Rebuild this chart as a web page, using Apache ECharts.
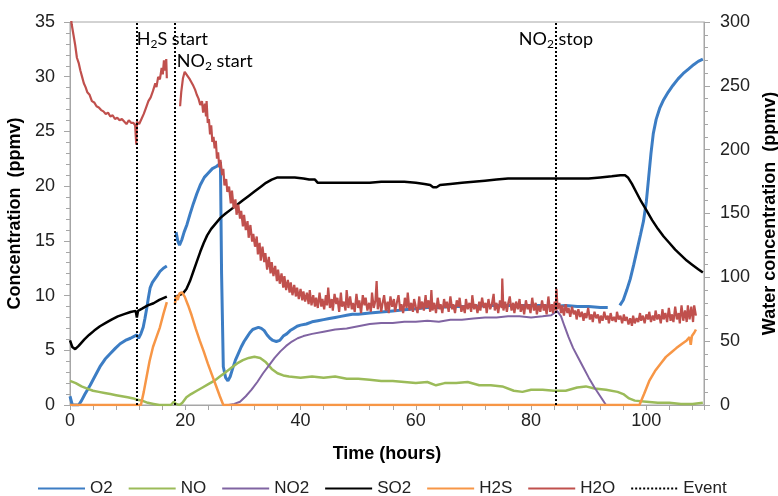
<!DOCTYPE html>
<html>
<head>
<meta charset="utf-8">
<script src="https://cdn.jsdelivr.net/npm/echarts@6/dist/echarts.min.js"></script>
<style>
  html, body { margin: 0; padding: 0; background: #fff; }
  #chart { width: 778px; height: 496px; }
</style>
</head>
<body>
<div id="chart"></div>
<script>
// series names (legend order)
var seriesNames = ['O2', 'NO', 'NO2', 'SO2', 'H2S', 'H2O', 'Event'];

// O2 (ppmv) - [hours, value]
var o2Data = [
  [0,0.8],[0.4,0],[1.5,0],[2.0,0.4],[2.6,1.0],[3.5,1.8],[4.3,2.6],[5.2,3.5],[6.1,4.2],[7.0,4.7],
  [7.9,5.2],[8.7,5.6],[9.6,5.9],[10.5,6.1],[11.2,6.3],[11.6,6.4],[11.9,6.1],[12.3,6.5],[12.7,7.1],
  [13.0,7.9],[13.3,8.8],[13.6,9.8],[13.9,10.7],[14.3,11.2],[14.7,11.5],[15.1,11.8],[15.6,12.2],
  [16.2,12.5],[16.8,12.7],[17.5,'-'],
  [18.4,15.8],[18.7,15.0],[19.0,14.6],[19.4,15.1],[19.8,15.8],[20.3,16.5],[20.8,17.4],[21.4,18.4],
  [22.0,19.3],[22.6,20.1],[23.3,20.8],[24.0,21.2],[24.7,21.6],[25.4,21.8],[25.9,22.0],[26.1,22.2],
  [26.3,12],[26.6,3.5],[27.0,2.5],[27.4,2.2],[27.8,2.6],[28.2,3.3],[28.7,4.1],[29.2,4.7],[29.7,5.3],
  [30.2,5.8],[30.7,6.2],[31.2,6.6],[31.7,6.9],[32.2,7.0],[32.7,7.1],[33.2,7.0],[33.7,6.8],[34.2,6.4],
  [34.7,6.1],[35.2,5.9],[35.8,5.8],[36.4,5.9],[37.0,6.3],[37.6,6.5],[38.2,6.8],[38.8,7.0],[39.4,7.2],
  [40.0,7.3],[41.0,7.4],[42.0,7.6],[43.0,7.7],[44.0,7.8],[45.0,7.9],[46.0,8.0],[47.0,8.1],[48.0,8.2],
  [49.0,8.3],[50.0,8.3],[52.0,8.4],[54.0,8.5],[56.0,8.6],[58.0,8.7],[60.0,8.8],[62.0,8.9],[64.0,8.9],
  [66.0,9.0],[68.0,9.0],[70.0,9.0],[72.0,9.1],[74.0,9.1],[76.0,9.1],[78.0,9.1],[80.0,9.1],[82.0,9.1],
  [84.0,9.0],[86.0,9.1],[88.0,9.0],[90.0,9.0],[92.0,8.9],[93.3,8.9],[94.3,'-'],
  [95.4,9.1],[96.0,9.6],[96.6,10.5],[97.2,11.5],[97.8,12.8],[98.4,14.2],[99.0,15.6],[99.5,16.8],
  [100.0,18.6],[100.4,20.8],[100.8,23.0],[101.2,24.8],[101.7,26.1],[102.3,27.1],[103.0,27.9],
  [103.8,28.6],[104.6,29.2],[105.5,29.8],[106.4,30.3],[107.3,30.7],[108.2,31.1],[109.0,31.4],[109.8,31.6]
];

// NO (ppmv)
var noData = [
  [0,2.2],[1,2.0],[2,1.7],[3,1.5],[4,1.3],[5,1.2],[6,1.1],[7,1.0],[8,0.9],[9,0.8],[10,0.7],[11,0.6],
  [11.5,0.5],[12.5,0.4],[13.5,0.2],[14.5,0.1],[15.5,0],[17.5,0],[18.0,0.3],[18.4,0.1],[19.0,0],
  [19.5,0.2],[20.2,0.7],[21.0,1.0],[22.0,1.3],[23.0,1.6],[24.0,1.9],[25.0,2.2],[26.0,2.6],[27.0,3.0],
  [28.0,3.4],[29.0,3.8],[30.0,4.1],[31.0,4.3],[32.0,4.4],[33.0,4.3],[34.0,3.9],[35.0,3.3],[36.0,2.9],
  [37.0,2.7],[38.0,2.6],[40.0,2.5],[42.0,2.6],[44.0,2.5],[46.0,2.6],[48.0,2.4],[50.0,2.4],[52.0,2.3],
  [54.0,2.2],[56.0,2.2],[58.0,2.1],[60.0,2.0],[62.0,2.1],[63.5,1.8],[65.0,2.0],[67.0,2.0],[69.0,2.1],
  [71.0,1.8],[73.0,1.8],[75.0,1.7],[77.0,1.3],[78.5,1.2],[80.0,1.4],[82.0,1.4],[84.0,1.3],[86.0,1.3],
  [88.0,1.6],[89.5,1.7],[91.0,1.5],[93.0,1.4],[95.0,1.2],[96.0,1.0],[97.0,0.6],[98.0,0.4],[100.0,0.3],
  [102.0,0.2],[104.0,0.2],[106.0,0.1],[108.0,0.1],[109.8,0.2]
];

// NO2 (ppmv)
var no2Data = [
  [27.5,0],[28.5,0.1],[29.5,0.3],[30.5,0.8],[31.5,1.4],[32.5,2.1],[33.5,2.9],[34.5,3.6],[35.5,4.3],
  [36.5,4.9],[37.5,5.4],[38.5,5.8],[39.5,6.1],[40.5,6.3],[42,6.5],[44,6.7],[46,6.9],[48,7.0],[50,7.2],
  [52,7.4],[54,7.5],[56,7.5],[58,7.6],[60,7.6],[62,7.7],[64,7.6],[66,7.8],[68,7.8],[70,7.9],[72,8.0],
  [74,8.0],[76,8.1],[78,8.1],[80,8.0],[82,8.1],[83.5,8.2],[84.5,8.6],[85.2,8.1],[85.8,7.2],[86.5,6.2],
  [87.3,5.2],[88.2,4.3],[89.0,3.5],[90.0,2.5],[91.0,1.6],[92.0,0.8],[93.0,0]
];

// SO2 (ppmv)
var so2Data = [
  [0,5.9],[0.4,5.3],[0.9,5.1],[1.5,5.4],[2.5,6.0],[3.3,6.4],[4.2,6.8],[5.2,7.2],[6.2,7.5],[7.2,7.8],
  [8.3,8.1],[9.4,8.3],[10.5,8.5],[11.4,8.6],[11.6,8.0],[11.8,8.6],[12.5,8.8],[13.5,9.1],[14.5,9.3],
  [15.5,9.6],[16.8,9.9],[17.5,'-'],
  [18.2,9.9],[18.8,10.0],[19.6,10.2],[20.2,10.6],[20.8,11.3],[21.4,12.2],[22.0,13.1],[22.6,14.0],
  [23.2,14.8],[23.8,15.5],[24.5,16.1],[25.3,16.6],[26.1,17.1],[27.0,17.5],[28.0,17.9],[29.0,18.3],
  [30.0,18.7],[31.0,19.1],[32.0,19.5],[33.0,19.9],[34.0,20.3],[35.0,20.6],[36.0,20.8],[37.5,20.8],
  [39.0,20.8],[40.5,20.7],[41.5,20.6],[42.5,20.6],[43.0,20.3],[44.0,20.3],[46.0,20.3],[48.0,20.3],
  [50.0,20.3],[52.0,20.3],[54.0,20.4],[56.0,20.4],[58.0,20.4],[60.0,20.3],[61.5,20.2],[62.5,20.1],
  [63.0,19.9],[63.6,19.9],[64.2,20.1],[66.0,20.2],[68.0,20.3],[70.0,20.4],[72.0,20.5],[74.0,20.6],
  [76.0,20.7],[78.0,20.7],[80.0,20.7],[82.0,20.7],[84.0,20.7],[86.0,20.7],[88.0,20.7],[90.0,20.7],
  [92.0,20.8],[94.0,20.9],[95.5,21.0],[96.3,21.0],[96.8,20.8],[97.5,20.2],[98.3,19.4],[99.1,18.6],
  [100.0,17.8],[101.0,16.9],[102.0,16.1],[103.0,15.4],[104.0,14.8],[105.0,14.2],[106.0,13.7],
  [107.0,13.2],[108.0,12.8],[109.0,12.4],[109.8,12.1]
];

// H2S (ppmv)
var h2sData = [
  [0,0],[12.3,0],[12.8,1.2],[13.3,2.6],[13.8,4.0],[14.4,5.3],[15.0,6.2],[15.6,7.1],[16.2,8.3],
  [16.8,9.4],[17.5,'-'],
  [18.2,9.2],[18.4,10.0],[18.7,9.6],[19.0,10.2],[19.4,10.3],[19.9,9.9],[20.5,9.1],[21.1,8.2],
  [21.8,7.0],[22.5,5.9],[23.2,4.9],[23.9,3.8],[24.6,2.8],[25.3,1.8],[26.0,0.8],[26.6,0],[98.8,0],
  [99.6,1.0],[100.5,2.2],[101.5,3.1],[102.5,3.8],[103.4,4.4],[104.3,4.8],[105.2,5.2],[106.2,5.6],
  [107.0,5.9],[107.5,6.2],[107.7,5.5],[107.9,6.3],[108.3,6.6],[108.6,6.9]
];

// H2O (ppmv, right axis)
var h2oData = [
  [0,310],[0.3,298],[0.6,290],[0.9,282],[1.2,272],[1.5,268],[1.8,262],[2.1,257],[2.4,252],[2.7,249],
  [3.0,245],[3.4,243],[3.8,238],[4.2,237],[4.6,234],[5.0,233],[5.4,231],[5.8,230],[6.2,228],[6.6,229],
  [7.0,226],[7.4,227],[7.8,224],[8.2,225],[8.6,223],[9.0,224],[9.4,222],[9.8,220],[10.2,223],
  [10.6,221],[11.0,221],[11.3,219],[11.5,204],[11.6,222],[12.0,220],[12.4,224],[12.8,228],[13.2,233],
  [13.6,238],[14.0,241],[14.4,246],[14.8,252],[15.0,249],[15.3,257],[15.6,255],[15.9,264],[16.1,259],
  [16.3,270],[16.5,262],[16.7,271],[16.8,256],[17.8,'-'],
  [19.1,234],[19.3,245],[19.6,256],[19.9,261],[20.2,259],[20.5,260],[20.8,255],[21.1,256],[21.4,250],
  [21.7,247],[22.0,243],[22.3,240],[22.6,235],[22.9,238],
  [23.1,229],[23.4,236],[23.6,226],[23.7,238],[23.9,221],[24.1,224],[24.3,212],[24.5,219],[24.7,206],
  [24.9,210],[25.1,201],[25.3,207],[25.5,193],[25.7,198],[25.9,186],[26.1,192],[26.4,180],[26.6,185],
  [26.8,172],[27.1,177],[27.3,167],[27.6,171],[27.9,158],[28.1,168],[28.4,154],[28.7,161],[28.9,149],
  [29.2,157],[29.5,146],[29.7,152],[30.0,140],[30.2,149],[30.5,137],[30.8,144],[31.0,131],[31.3,141],
  [31.6,128],[31.8,134],[32.1,124],[32.4,132],[32.6,118],[32.9,127],[33.1,113],[33.4,124],[33.7,112],
  [33.9,119],[34.2,106],[34.5,116],[34.8,103],[35.0,112],[35.3,101],[35.6,109],[35.9,97],[36.1,106],
  [36.4,95],[36.7,103],[37.0,92],[37.2,101],[37.5,90],[37.8,98],[38.1,88],[38.3,96],[38.6,86],
  [38.9,94],[39.2,85],[39.4,92],[39.7,83],[40.0,91],[40.3,82],[40.5,89],[40.8,81],[41.1,88],[41.4,79],
  [41.6,90],[41.9,78],[42.2,86],[42.5,77],[42.7,84],[43.0,76],[43.3,88],[43.6,77],[43.8,83],
  [44.1,75],[44.4,86],[44.6,78],[44.8,92],[45.1,76],[45.4,83],[45.6,74],[45.9,87],[46.2,79],[46.4,84],
  [46.7,73],[47.0,88],[47.2,77],[47.5,81],[47.8,74],[48.0,90],[48.3,76],[48.6,85],[48.9,75],[49.1,80],
  [49.4,73],[49.7,87],[50.0,76],[50.2,82],[50.5,72],[50.8,86],[51.1,78],[51.3,84],[51.6,74],[51.9,80],
  [52.2,73],[52.4,88],[52.7,76],[53.0,82],[53.2,97],[53.4,75],[53.7,84],[54.0,73],[54.2,79],[54.5,86],
  [54.8,74],[55.1,81],[55.3,72],[55.6,85],[55.9,77],[56.2,83],[56.4,73],[56.7,80],[57.0,86],[57.3,74],
  [57.5,79],[57.8,72],[58.1,84],[58.4,76],[58.6,88],[58.9,74],[59.2,80],[59.5,73],[59.7,83],[60.0,77],
  [60.3,72],[60.6,85],[60.8,75],[61.1,81],[61.4,74],[61.7,86],[61.9,76],[62.2,82],[62.5,73],[62.7,90],
  [62.9,74],[63.2,80],[63.5,72],[63.8,84],[64.1,75],[64.3,79],[64.6,72],[64.9,83],[65.2,76],[65.4,81],
  [65.7,73],[66.0,85],[66.3,75],[66.5,79],[66.8,72],[67.1,82],[67.4,77],[67.6,84],[67.9,73],[68.2,78],
  [68.5,72],[68.7,83],[69.0,75],[69.3,80],[69.6,73],[69.8,86],[70.1,75],[70.4,79],[70.7,72],[71.0,81],
  [71.2,74],[71.5,84],[71.8,76],[72.1,80],[72.3,72],[72.6,83],[72.9,75],[73.2,79],[73.5,87],[73.7,74],
  [74.0,80],[74.3,72],[74.6,82],[74.9,76],[75.0,99],[75.2,74],[75.5,81],[75.8,73],[76.0,79],[76.3,85],
  [76.6,74],[76.9,80],[77.1,72],[77.4,81],[77.7,75],[78.0,83],[78.2,73],[78.5,79],[78.8,71],[79.1,82],
  [79.4,75],[79.6,79],[79.9,72],[80.2,84],[80.5,74],[80.8,80],[81.0,71],[81.3,78],[81.6,73],[81.9,82],
  [82.2,74],[82.4,79],[82.7,71],[83.0,85],[83.3,73],[83.6,79],[83.8,72],[84.1,81],[84.3,74],[84.4,91],
  [84.6,75],[84.9,80],[85.2,72],[85.4,78],[85.7,70],[86.0,79],[86.3,72],[86.5,76],[86.8,69],[87.1,77],
  [87.4,71],[87.7,74],[87.9,67],[88.2,75],[88.5,69],[88.8,73],[89.1,66],[89.3,72],[89.6,68],[89.9,76],
  [90.2,67],[90.5,71],[90.7,65],[91.0,73],[91.3,68],[91.6,71],[91.9,64],[92.1,70],[92.4,66],[92.7,73],
  [93.0,67],[93.3,70],[93.5,64],[93.8,72],[94.1,66],[94.4,69],[94.7,65],[94.9,73],[95.2,67],[95.5,70],
  [95.8,64],[96.1,71],[96.3,66],[96.6,69],[96.9,63],[97.2,68],[97.5,62],[97.7,70],[98.0,64],[98.3,68],
  [98.6,65],[98.9,72],[99.1,66],[99.4,70],[99.7,64],[100.0,71],[100.3,67],[100.5,73],[100.8,65],
  [101.1,70],[101.4,66],[101.6,74],[101.9,67],[102.2,71],[102.5,64],[102.8,75],[103.0,67],[103.3,72],
  [103.6,65],[103.9,76],[104.2,66],[104.4,71],[104.7,65],[105.0,77],[105.3,67],[105.6,72],[105.8,64],
  [106.1,78],[106.4,66],[106.7,74],[107.0,65],[107.2,78],[107.5,67],[107.8,77],[108.1,65],[108.3,78],
  [108.6,70]
];

// events (hours)
var eventHours = [11.5, 18.1, 84.3];

var cores = ['#3C7DC4', '#9BBB59', '#8064A2', '#000000', '#F79646', '#C0504D'];
var eixoCor = '#A6A6A6';
var fonte = 'Liberation Sans, Arial, sans-serif';

function serie(nome, dados, cor, eixo, largura) {
    return {
        name: nome,
        type: 'line',
        yAxisIndex: eixo,
        data: dados,
        showSymbol: false,
        symbol: 'none',
        connectNulls: false,
        animation: false,
        lineStyle: { color: cor, width: largura },
        itemStyle: { color: cor }
    };
}

var rotuloRich = {
    n: { fontFamily: 'Lato, sans-serif', fontSize: 18, color: '#000' },
    s: { fontFamily: 'Lato, sans-serif', fontSize: 12, color: '#000', verticalAlign: 'bottom', padding: [9, 0, 0, 0] }
};

// rotulos dos eventos
var marcadores = [
    { coord: [eventHours[0], 33.4], label: { formatter: '{n|H}{s|2}{n|S start}', position: 'right', distance: 0 } },
    { coord: [eventHours[1], 31.4], label: { formatter: '{n|NO}{s|2}{n| start}', position: 'right', distance: 2 } },
    { coord: [eventHours[2], 33.4], label: { formatter: '{n|NO}{s|2}{n| stop}', position: 'inside' } }
];

var myChart = echarts.init(document.getElementById('chart'));
var option = {
    backgroundColor: '#fff',
    animation: false,
    grid: {
        left: 70, right: 74, top: 22, bottom: 91,
        containLabel: false,
        outerBoundsMode: 'none',
        show: true, borderColor: eixoCor, borderWidth: 1, backgroundColor: 'transparent'
    },
    legend: {
        data: seriesNames,
        top: 475,
        left: 32,
        itemWidth: 47,
        itemHeight: 12,
        itemGap: 15,
        itemStyle: { opacity: 0 },
        textStyle: { fontFamily: fonte, fontSize: 17, color: '#222' }
    },
    xAxis: {
        type: 'value',
        min: 0, max: 110, interval: 20,
        name: 'Time (hours)',
        nameLocation: 'middle',
        nameGap: 40,
        nameTextStyle: { fontFamily: fonte, fontSize: 18, fontWeight: 'bold', color: '#000' },
        axisLine: { show: true, lineStyle: { color: eixoCor } },
        axisTick: { show: true, length: 5, lineStyle: { color: eixoCor } },
        minorTick: { show: true, splitNumber: 5, length: 5, lineStyle: { color: eixoCor } },
        splitLine: { show: false },
        axisLabel: { fontFamily: fonte, fontSize: 18, color: '#222', margin: 7, showMaxLabel: false }
    },
    yAxis: [{
        type: 'value',
        min: 0, max: 35, interval: 5,
        name: 'Concentration  (ppmv)',
        nameLocation: 'middle',
        nameRotate: 90,
        nameGap: 38,
        nameTextStyle: { fontFamily: fonte, fontSize: 18, fontWeight: 'bold', color: '#000' },
        axisLine: { show: true, lineStyle: { color: eixoCor } },
        axisTick: { show: true, length: 6, lineStyle: { color: eixoCor } },
        minorTick: { show: true, splitNumber: 5, length: 4, lineStyle: { color: eixoCor } },
        splitLine: { show: false },
        axisLabel: { fontFamily: fonte, fontSize: 18, color: '#222', margin: 15 }
    }, {
        type: 'value',
        min: 0, max: 300, interval: 50,
        position: 'right',
        name: 'Water concentration  (ppmv)',
        nameLocation: 'middle',
        nameRotate: 90,
        nameGap: 57,
        nameTextStyle: { fontFamily: fonte, fontSize: 18, fontWeight: 'bold', color: '#000' },
        axisLine: { show: true, lineStyle: { color: eixoCor } },
        axisTick: { show: true, length: 6, lineStyle: { color: eixoCor } },
        minorTick: { show: true, splitNumber: 5, length: 4, lineStyle: { color: eixoCor } },
        splitLine: { show: false },
        axisLabel: { fontFamily: fonte, fontSize: 18, color: '#222', margin: 16 }
    }],
    series: [
        serie('O2', o2Data, cores[0], 0, 3),
        serie('NO', noData, cores[1], 0, 2.5),
        serie('NO2', no2Data, cores[2], 0, 2),
        serie('SO2', so2Data, cores[3], 0, 2.5),
        serie('H2S', h2sData, cores[4], 0, 2.5),
        serie('H2O', h2oData, cores[5], 1, 2.2),
        {
            name: 'Event',
            type: 'line',
            yAxisIndex: 0,
            data: [],
            symbol: 'none',
            animation: false,
            lineStyle: { color: '#000', width: 2, type: 'dotted' },
            itemStyle: { color: '#000' },
            markLine: {
                silent: true,
                symbol: 'none',
                animation: false,
                label: { show: false },
                lineStyle: { color: '#000', width: 2, type: 'dotted' },
                data: eventHours.map(function (h) { return { xAxis: h }; })
            },
            markPoint: {
                silent: true,
                symbol: 'circle',
                symbolSize: 1,
                animation: false,
                itemStyle: { color: 'rgba(0,0,0,0)' },
                label: { show: true, rich: rotuloRich },
                data: marcadores
            }
        }
    ]
};

myChart.setOption(option);
</script>
</body>
</html>
